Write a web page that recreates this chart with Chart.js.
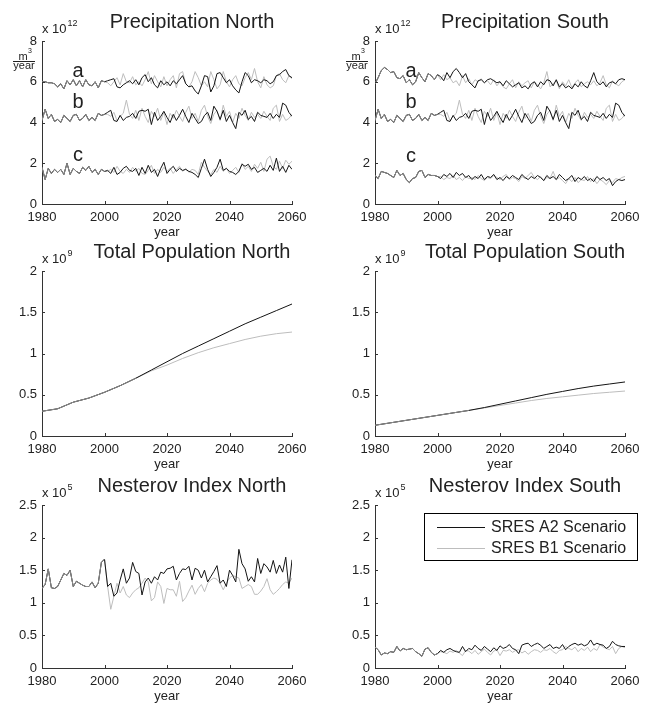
<!DOCTYPE html>
<html>
<head>
<meta charset="utf-8">
<script src="https://cdn.jsdelivr.net/npm/chart.js@4.4.0/dist/chart.umd.min.js"></script>
<style>
  body { margin: 0; background: #fff; }
  #wrap { position: relative; width: 651px; height: 705px; }
  #wrap canvas { position: absolute; left: 0; top: 0; }
</style>
</head>
<body>
<div id="wrap">
  <canvas id="c0" width="651" height="705"></canvas>
  <canvas id="c1" width="651" height="705"></canvas>
  <canvas id="c2" width="651" height="705"></canvas>
  <canvas id="c3" width="651" height="705"></canvas>
  <canvas id="c4" width="651" height="705"></canvas>
  <canvas id="c5" width="651" height="705"></canvas>
</div>
<script>
// years: observed period and scenario period
const histYears = [];
for (let y = 1980; y <= 2000; y++) histYears.push(y);
const scenYears = [];
for (let y = 2001; y <= 2060; y++) scenYears.push(y);
const popHistYears = [1980, 1985, 1990, 1995, 2000, 2005, 2010];
const popScenYears = [2015, 2020, 2025, 2030, 2035, 2040, 2045, 2050, 2055, 2060];
const xTicks = [1980, 2000, 2020, 2040, 2060];

// Precipitation North (x 10^12 m3/year)
const precNorthAHist = [6.0,6.0,5.95,5.95,5.9,5.75,5.9,5.65,6.05,5.85,6.1,5.8,6.05,5.75,6.1,5.85,5.8,6.0,5.7,6.05,6.0];
const precNorthAA2 = [6.05,6.1,6.15,5.75,5.7,5.85,5.95,6.05,5.9,6.1,5.85,6.2,6.35,6.0,6.2,5.85,5.7,6.05,5.85,6.0,
  5.8,6.05,5.9,6.1,6.3,5.9,5.75,5.8,5.55,5.4,5.8,6.3,6.25,5.5,5.8,6.4,6.45,6.2,5.95,6.1,
  5.8,5.6,5.45,6.0,6.45,6.3,5.95,6.1,6.05,5.95,6.1,6.05,5.9,6.0,6.3,6.35,6.5,6.6,6.3,6.2];
const precNorthAB1 = [5.95,5.8,6.0,6.2,5.85,6.4,6.0,5.95,6.25,5.85,6.0,5.8,6.1,6.5,5.9,6.3,6.0,5.75,6.25,5.8,
  6.1,6.3,5.7,6.4,6.5,5.9,5.75,6.0,6.5,6.2,5.8,6.0,5.75,6.5,6.1,5.65,5.85,6.5,6.0,5.75,
  6.1,6.3,5.9,5.8,6.2,6.45,6.1,6.65,6.0,5.7,6.25,5.85,5.7,5.8,6.3,6.4,6.1,5.95,6.3,6.15];
const precNorthBHist = [4.1,4.65,4.2,4.4,4.05,4.15,4.0,4.35,4.2,4.05,4.35,4.4,4.1,4.2,4.4,4.1,4.25,4.1,4.45,4.35,4.4];
const precNorthBA2 = [4.5,4.6,4.1,4.05,4.35,4.1,4.25,4.3,4.45,4.2,4.55,4.6,4.55,4.65,3.9,4.5,4.1,4.3,4.55,4.25,
  4.0,4.4,4.1,4.35,4.65,4.3,4.0,4.45,4.2,3.95,4.05,4.35,4.5,4.1,4.8,4.55,4.15,4.6,4.05,4.35,
  4.0,3.7,4.5,4.35,4.6,4.15,4.3,4.05,4.5,4.35,4.3,4.25,4.45,4.2,4.4,4.25,4.95,4.85,4.5,4.3];
const precNorthBB1 = [4.4,4.3,4.5,4.1,4.3,4.45,5.1,4.4,4.2,4.6,4.1,4.7,4.3,4.0,4.55,4.3,4.7,4.1,4.5,3.9,
  4.45,4.2,4.6,4.3,4.05,4.5,4.8,4.2,4.45,4.05,4.6,4.85,4.3,3.95,4.4,4.6,4.1,4.85,4.3,4.55,
  4.0,4.45,4.2,4.7,4.35,4.1,4.5,4.25,4.4,4.2,4.55,4.3,4.1,4.7,4.85,4.05,4.4,4.1,4.2,4.4];
const precNorthCHist = [1.8,1.2,1.75,1.5,1.7,1.55,1.7,1.45,2.0,1.45,1.75,1.6,1.5,1.8,1.65,1.85,1.55,1.7,1.45,1.7,1.6];
const precNorthCA2 = [1.65,1.5,1.8,1.45,1.55,1.75,1.85,1.65,1.6,1.75,1.4,1.8,1.5,1.9,1.55,1.7,1.35,1.75,2.05,1.5,
  1.7,1.85,1.6,1.75,1.65,1.7,1.6,1.55,1.45,1.3,1.75,2.2,1.7,1.35,1.55,1.8,2.2,1.65,1.75,1.6,
  1.55,1.45,1.6,1.95,1.85,1.95,1.7,1.8,1.55,1.65,1.75,1.6,1.9,1.65,2.25,1.6,1.85,1.55,1.9,1.7];
const precNorthCB1 = [1.6,1.7,1.55,1.85,1.6,1.5,1.7,1.55,1.8,1.6,1.75,1.5,1.45,1.65,1.9,1.5,1.7,1.55,1.8,1.6,
  1.75,1.5,1.7,1.85,1.6,1.75,1.55,1.7,1.65,1.45,2.05,1.8,1.6,1.45,1.7,1.55,1.85,1.6,1.75,1.5,
  1.65,1.8,1.55,2.0,1.7,1.85,1.6,1.95,1.75,2.05,1.6,2.2,2.35,1.85,1.7,2.1,1.75,2.15,1.95,2.1];

// Precipitation South (x 10^12 m3/year)
const precSouthAHist = [5.9,6.2,6.55,6.7,6.6,6.45,6.5,6.2,6.15,6.3,5.95,6.1,5.85,6.0,6.45,6.2,6.0,6.4,6.3,6.1,6.35];
const precSouthAA2 = [6.25,6.05,6.45,6.2,6.5,6.65,6.45,6.2,6.4,6.0,5.85,5.7,6.05,6.1,5.95,6.1,6.15,6.05,5.95,6.0,
  5.8,6.05,5.9,5.75,5.85,5.95,5.7,5.8,5.65,5.9,6.0,5.75,6.0,5.85,6.1,6.05,5.8,6.1,5.75,5.9,
  5.7,5.8,5.65,5.9,5.75,6.0,5.8,5.7,6.05,6.45,6.0,5.85,6.0,5.75,5.95,6.0,5.9,6.1,6.15,6.1];
const precSouthAB1 = [6.1,6.35,6.1,6.2,5.95,6.05,5.8,6.3,5.95,6.15,5.85,6.1,6.0,6.15,5.95,6.05,5.85,6.1,5.8,6.0,
  5.75,5.65,5.9,6.1,5.7,6.0,5.8,5.95,6.05,5.7,6.0,5.85,5.65,5.95,6.5,5.75,5.9,6.05,5.65,6.0,
  5.8,6.1,5.7,5.95,6.1,5.75,5.9,6.0,5.85,6.05,5.8,5.95,6.3,5.85,5.7,6.05,5.9,5.8,6.0,6.1];
const precSouthBHist = [4.1,4.65,4.2,4.4,4.05,4.15,4.0,4.35,4.2,4.05,4.35,4.4,4.1,4.2,4.4,4.1,4.25,4.1,4.45,4.35,4.4];
const precSouthBA2 = [4.5,4.6,4.1,4.05,4.35,4.1,4.25,4.3,4.45,4.2,4.55,4.6,4.55,4.65,3.9,4.5,4.1,4.3,4.55,4.25,
  4.0,4.4,4.1,4.35,4.65,4.3,4.0,4.45,4.2,3.95,4.05,4.35,4.5,4.1,4.8,4.55,4.15,4.6,4.05,4.35,
  4.0,3.7,4.5,4.35,4.6,4.15,4.3,4.05,4.5,4.35,4.3,4.25,4.45,4.2,4.4,4.25,4.95,4.85,4.5,4.3];
const precSouthBB1 = [4.4,4.3,4.5,4.1,4.3,4.45,5.1,4.4,4.2,4.6,4.1,4.7,4.3,4.0,4.55,4.3,4.7,4.1,4.5,3.9,
  4.45,4.2,4.6,4.3,4.05,4.5,4.8,4.2,4.45,4.05,4.6,4.85,4.3,3.95,4.4,4.6,4.1,4.85,4.3,4.55,
  4.0,4.45,4.2,4.7,4.35,4.1,4.5,4.25,4.4,4.2,4.55,4.3,4.1,4.7,4.85,4.05,4.4,4.1,4.2,4.4];
const precSouthCHist = [1.4,1.25,1.6,1.55,1.5,1.4,1.3,1.65,1.4,1.5,1.2,1.05,1.25,1.3,1.6,1.65,1.3,1.45,1.4,1.4,1.35];
const precSouthCA2 = [1.25,1.45,1.35,1.5,1.3,1.55,1.4,1.5,1.3,1.4,1.2,1.35,1.25,1.45,1.2,1.35,1.3,1.45,1.2,1.3,
  1.15,1.35,1.25,1.4,1.3,1.2,1.45,1.3,1.2,1.35,1.25,1.4,1.3,1.15,1.4,1.25,1.35,1.2,1.45,1.3,
  1.15,1.25,1.4,1.1,1.3,1.2,1.35,1.15,1.25,1.1,1.35,1.2,1.3,1.15,1.25,0.9,1.1,1.2,1.15,1.2];
const precSouthCB1 = [1.35,1.2,1.3,1.25,1.4,1.2,1.3,1.15,1.35,1.25,1.3,1.2,1.4,1.25,1.15,1.3,1.25,1.4,1.3,1.2,
  1.35,1.45,1.2,1.3,1.25,1.1,1.35,1.25,1.4,1.55,1.3,1.2,1.35,1.15,1.3,1.25,1.6,1.2,1.3,1.15,
  1.0,1.25,1.1,1.3,1.05,1.2,1.15,1.35,1.1,1.25,1.0,1.2,1.1,0.95,1.15,1.05,1.25,1.2,1.3,1.35];

// Total population (x 10^9)
const popNorthHist = [0.30,0.33,0.41,0.46,0.53,0.61,0.70];
const popNorthA2 = [0.80,0.90,1.00,1.09,1.18,1.27,1.36,1.44,1.52,1.60];
const popNorthB1 = [0.79,0.86,0.94,1.01,1.07,1.12,1.17,1.21,1.24,1.26];
const popSouthHist = [0.13,0.16,0.19,0.22,0.25,0.28,0.31];
const popSouthA2 = [0.345,0.385,0.425,0.465,0.505,0.54,0.575,0.605,0.63,0.655];
const popSouthB1 = [0.34,0.37,0.40,0.43,0.455,0.475,0.495,0.515,0.53,0.545];

// Nesterov index (x 10^5)
const nestNorthHist = [1.22,1.28,1.52,1.23,1.22,1.25,1.35,1.45,1.42,1.5,1.25,1.33,1.3,1.27,1.25,1.25,1.32,1.23,1.3,1.62,1.67];
const nestNorthA2 = [1.25,1.3,1.1,1.15,1.35,1.52,1.3,1.38,1.62,1.48,1.45,1.12,1.32,1.38,1.3,1.4,1.35,1.47,1.45,1.52,
  1.53,1.56,1.35,1.45,1.52,1.51,1.56,1.35,1.53,1.5,1.38,1.5,1.32,1.4,1.48,1.57,1.3,1.35,1.25,1.5,
  1.42,1.32,1.82,1.6,1.52,1.33,1.4,1.32,1.68,1.45,1.6,1.55,1.47,1.65,1.45,1.58,1.47,1.7,1.22,1.66];
const nestNorthB1 = [1.25,0.9,1.1,1.3,1.15,1.25,1.12,1.08,1.15,1.2,1.23,1.3,1.38,1.32,1.03,1.08,1.32,1.25,0.99,1.22,
  1.2,1.2,1.1,1.33,1.02,1.08,1.18,1.27,1.13,1.22,1.28,1.17,1.3,1.35,1.38,1.36,1.3,1.2,1.3,1.38,
  1.42,1.4,1.38,1.22,1.25,1.28,1.25,1.13,1.13,1.18,1.25,1.37,1.2,1.13,1.17,1.22,1.28,1.32,1.3,1.38];
const nestSouthHist = [0.32,0.28,0.2,0.23,0.22,0.25,0.24,0.33,0.26,0.3,0.28,0.29,0.3,0.25,0.22,0.18,0.29,0.31,0.24,0.2,0.22];
const nestSouthA2 = [0.27,0.24,0.28,0.3,0.27,0.25,0.24,0.33,0.25,0.3,0.28,0.35,0.3,0.27,0.33,0.29,0.25,0.31,0.27,0.34,
  0.3,0.32,0.36,0.3,0.28,0.22,0.35,0.37,0.38,0.33,0.36,0.38,0.35,0.3,0.33,0.36,0.3,0.32,0.3,0.36,
  0.28,0.33,0.36,0.38,0.35,0.37,0.34,0.36,0.43,0.35,0.38,0.36,0.35,0.3,0.33,0.41,0.36,0.34,0.33,0.33];
const nestSouthB1 = [0.25,0.24,0.22,0.26,0.24,0.27,0.23,0.19,0.27,0.26,0.22,0.27,0.21,0.25,0.29,0.24,0.2,0.26,0.28,0.19,
  0.27,0.26,0.28,0.24,0.27,0.28,0.23,0.26,0.21,0.25,0.28,0.27,0.24,0.28,0.27,0.3,0.25,0.22,0.27,0.28,
  0.33,0.3,0.28,0.32,0.25,0.3,0.27,0.32,0.25,0.3,0.27,0.36,0.32,0.3,0.28,0.33,0.22,0.3,0.33,0.31];

const seriesLabels = ['SRES A2 Scenario', 'SRES B1 Scenario'];
const groupLetters = ['a', 'b', 'c'];

const FONT = '"Liberation Sans", Arial, sans-serif';
const colA2 = '#141414', colB1 = '#bdbdbd', colHist = '#8c8c8c';

// panel geometry
const colLeft = [42, 375], colRight = [292, 625];
const rowTop = [41, 271, 505], rowBottom = [204, 436, 668];
const titleX = [192, 525];

function pts(xs, ys) {
    return xs.map((x, i) => ({ x: x, y: ys[i] }));
}

function groupSets(hx, sx, hist, a2, b1) {
    const allX = hx.concat(sx);
    return [
        { data: pts(hx, hist), borderColor: colHist, borderWidth: 1 },
        { data: pts(allX, hist.concat(a2)), borderColor: colA2, borderWidth: 1 },
        { data: pts(allX, hist.concat(b1)), borderColor: colB1, borderWidth: 1 }
    ];
}

const panels = [
    { col: 0, row: 0, title: 'Precipitation North', exp: '12', yMax: 8, step: 2, unit: true,
      groups: [[precNorthAHist, precNorthAA2, precNorthAB1], [precNorthBHist, precNorthBA2, precNorthBB1], [precNorthCHist, precNorthCA2, precNorthCB1]],
      letterY: [6.48, 4.96, 2.4] },
    { col: 1, row: 0, title: 'Precipitation South', exp: '12', yMax: 8, step: 2, unit: true,
      groups: [[precSouthAHist, precSouthAA2, precSouthAB1], [precSouthBHist, precSouthBA2, precSouthBB1], [precSouthCHist, precSouthCA2, precSouthCB1]],
      letterY: [6.48, 4.96, 2.35] },
    { col: 0, row: 1, title: 'Total Population North', exp: '9', yMax: 2, step: 0.5, pop: true,
      groups: [[popNorthHist, popNorthA2, popNorthB1]] },
    { col: 1, row: 1, title: 'Total Population South', exp: '9', yMax: 2, step: 0.5, pop: true,
      groups: [[popSouthHist, popSouthA2, popSouthB1]] },
    { col: 0, row: 2, title: 'Nesterov Index North', exp: '5', yMax: 2.5, step: 0.5,
      groups: [[nestNorthHist, nestNorthA2, nestNorthB1]] },
    { col: 1, row: 2, title: 'Nesterov Index South', exp: '5', yMax: 2.5, step: 0.5, legend: true,
      groups: [[nestSouthHist, nestSouthA2, nestSouthB1]] }
];

const decorPlugin = {
    id: 'decor',
    afterDraw(chart, args, opts) {
        const p = opts.panel;
        const ctx = chart.ctx;
        const ca = chart.chartArea;
        const xs = chart.scales.x, ys = chart.scales.y;
        ctx.save();
        // inward tick marks
        ctx.strokeStyle = '#333';
        ctx.lineWidth = 1;
        ctx.beginPath();
        xTicks.forEach(v => {
            const px = Math.round(xs.getPixelForValue(v)) + 0.5;
            ctx.moveTo(px, ca.bottom);
            ctx.lineTo(px, ca.bottom - 3);
        });
        ys.ticks.forEach(t => {
            const py = Math.round(ys.getPixelForValue(t.value)) + 0.5;
            ctx.moveTo(ca.left, py);
            ctx.lineTo(ca.left + 3, py);
        });
        ctx.stroke();

        ctx.fillStyle = '#222';
        // title
        ctx.font = '20px ' + FONT;
        ctx.textAlign = 'center';
        ctx.textBaseline = 'alphabetic';
        ctx.fillText(p.title, titleX[p.col], ca.top - 13.5);
        // exponent
        ctx.textAlign = 'left';
        ctx.font = '13px ' + FONT;
        ctx.fillText('x 10', ca.left, ca.top - 8);
        const w = ctx.measureText('x 10').width;
        ctx.font = '9px ' + FONT;
        ctx.fillText(p.exp, ca.left + w + 1, ca.top - 15);
        // x axis label
        ctx.font = '13px ' + FONT;
        ctx.textAlign = 'center';
        ctx.fillText('year', (ca.left + ca.right) / 2, ca.bottom + 32);
        // unit m3/year
        if (p.unit) {
            const cx = ca.left - 18;
            ctx.font = '11px ' + FONT;
            ctx.fillText('m', cx - 1, ca.top + 19);
            ctx.font = '7px ' + FONT;
            ctx.fillText('3', cx + 6, ca.top + 12);
            ctx.font = '11px ' + FONT;
            ctx.fillText('year', cx, ca.top + 28);
            ctx.beginPath();
            ctx.moveTo(cx - 11, ca.top + 20.5);
            ctx.lineTo(cx + 11, ca.top + 20.5);
            ctx.strokeStyle = '#222';
            ctx.stroke();
        }
        // group letters
        if (p.letterY) {
            ctx.font = '20px ' + FONT;
            ctx.textBaseline = 'middle';
            p.letterY.forEach((v, i) => {
                ctx.fillText(groupLetters[i], xs.getPixelForValue(1991.5), ys.getPixelForValue(v));
            });
        }
        // legend
        if (p.legend) {
            const lx = 424.5, ly = 513.5, lw = 213, lh = 47;
            ctx.fillStyle = '#fff';
            ctx.fillRect(lx, ly, lw, lh);
            ctx.strokeStyle = '#000';
            ctx.strokeRect(lx, ly, lw, lh);
            const rows = [[colA2, ly + 13.5], [colB1, ly + 34.5]];
            ctx.font = '16px ' + FONT;
            ctx.textAlign = 'left';
            ctx.textBaseline = 'middle';
            ctx.fillStyle = '#222';
            rows.forEach((r, i) => {
                ctx.strokeStyle = r[0];
                ctx.beginPath();
                ctx.moveTo(437, Math.round(r[1]) + 0.5);
                ctx.lineTo(485, Math.round(r[1]) + 0.5);
                ctx.stroke();
                ctx.fillText(seriesLabels[i], 491, r[1] + 1);
            });
        }
        ctx.restore();
    }
};

panels.forEach((p, idx) => {
    const hx = p.pop ? popHistYears : histYears;
    const sx = p.pop ? popScenYears : scenYears;
    let datasets = [];
    p.groups.forEach(g => { datasets = datasets.concat(groupSets(hx, sx, g[0], g[1], g[2])); });
    datasets.forEach(d => { d.pointRadius = 0; d.fill = false; d.tension = 0; });

    const left = colLeft[p.col], right = colRight[p.col];
    const top = rowTop[p.row], bottom = rowBottom[p.row];

    new Chart(document.getElementById('c' + idx), {
        type: 'line',
        data: { datasets: datasets },
        options: {
            responsive: false,
            animation: false,
            devicePixelRatio: 1,
            events: [],
            layout: { padding: { left: left - 42, right: 651 - right, top: top, bottom: 705 - bottom - 31 } },
            plugins: {
                legend: { display: false },
                tooltip: { enabled: false },
                title: { display: false },
                decor: { panel: p }
            },
            scales: {
                x: {
                    type: 'linear', min: 1980, max: 2060,
                    afterBuildTicks: s => { s.ticks = xTicks.map(v => ({ value: v })); },
                    afterFit: s => { s.height = 31; },
                    ticks: { padding: 6, color: '#222', font: { size: 13, family: FONT }, maxRotation: 0, callback: v => String(v) },
                    grid: { display: false, drawTicks: false },
                    border: { display: true, color: '#333', width: 1 }
                },
                y: {
                    min: 0, max: p.yMax,
                    afterFit: s => { s.width = 42; },
                    ticks: { stepSize: p.step, padding: 5, color: '#222', font: { size: 13, family: FONT }, callback: v => String(v) },
                    grid: { display: false, drawTicks: false },
                    border: { display: true, color: '#333', width: 1 }
                }
            }
        },
        plugins: [decorPlugin]
    });
});
</script>
</body>
</html>
